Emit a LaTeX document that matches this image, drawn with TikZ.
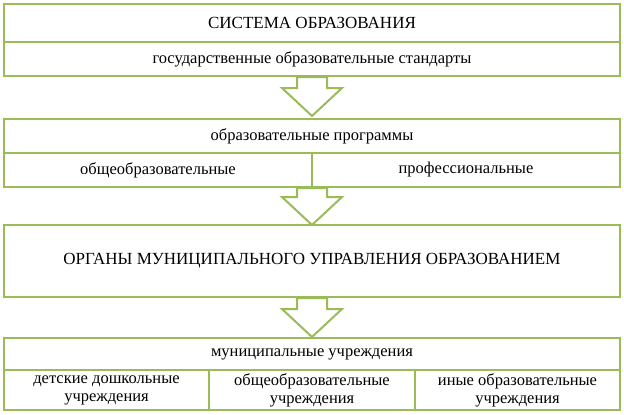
\documentclass[tikz,border=0pt]{standalone}
\usepackage{fontspec}
\setmainfont{Liberation Serif}
\usetikzlibrary{positioning,calc}
\definecolor{boxgreen}{HTML}{9BBB59}
\tikzset{
  cell/.style={draw=boxgreen, line width=2pt, fill=white, rectangle, inner sep=0pt,
    font=\fontsize{16.5}{18}\selectfont, align=center},
  bigarrow/.style={draw=boxgreen, line width=2pt, fill=white, line join=miter}
}
\newcommand{\downarr}[2]{% from coordinate #1 to tip coordinate #2
  \draw[bigarrow] ($(#1)+(-15,0)$) -- ($(#1)+(15,0)$) -- ($(#2)+(15,-28)$) -- ($(#2)+(30,-28)$)
    -- (#2) -- ($(#2)+(-30,-28)$) -- ($(#2)+(-15,-28)$) -- cycle;}
\begin{document}
\begin{tikzpicture}[x=1pt,y=-1pt]
	\useasboundingbox (0,0) rectangle (624,415);
	% system
	\node[cell, minimum width=616, minimum height=38, font=\fontsize{17}{18}\selectfont] (sys) at (312,23) {СИСТЕМА ОБРАЗОВАНИЯ};
	\node[cell, minimum width=616, minimum height=34] (std) at (312,59) {государственные образовательные стандарты};
	\coordinate (a1s) at (312,77);
	\coordinate (a1t) at (312,116);
	\downarr{a1s}{a1t}
	% programs
	\node[cell, minimum width=616, minimum height=34] (prog) at (312,136) {образовательные программы};
	\node[cell, minimum width=308, minimum height=34] (gen) at (158,170) {общеобразовательные};
	\node[cell, minimum width=308, minimum height=34] (prof) at (466,170) {профессиональные};
	\coordinate (a2s) at (312,188);
	\coordinate (a2t) at (312,225);
	\downarr{a2s}{a2t}
	% municipal authorities
	\node[cell, minimum width=616, minimum height=72, font=\fontsize{17}{18}\selectfont] (org) at (312,261) {ОРГАНЫ МУНИЦИПАЛЬНОГО УПРАВЛЕНИЯ ОБРАЗОВАНИЕМ};
	\coordinate (a3s) at (312,298);
	\coordinate (a3t) at (312,337);
	\downarr{a3s}{a3t}
	% institutions
	\node[cell, minimum width=616, minimum height=33] (inst) at (312,354) {муниципальные учреждения};
	\node[cell, minimum width=205, minimum height=40] (pre) at (106.5,390) {детские дошкольные\\учреждения};
	\node[cell, minimum width=206, minimum height=40] (school) at (312,390) {общеобразовательные\\учреждения};
	\node[cell, minimum width=205, minimum height=40] (other) at (517.5,390) {иные образовательные\\учреждения};
\end{tikzpicture}
\end{document}
